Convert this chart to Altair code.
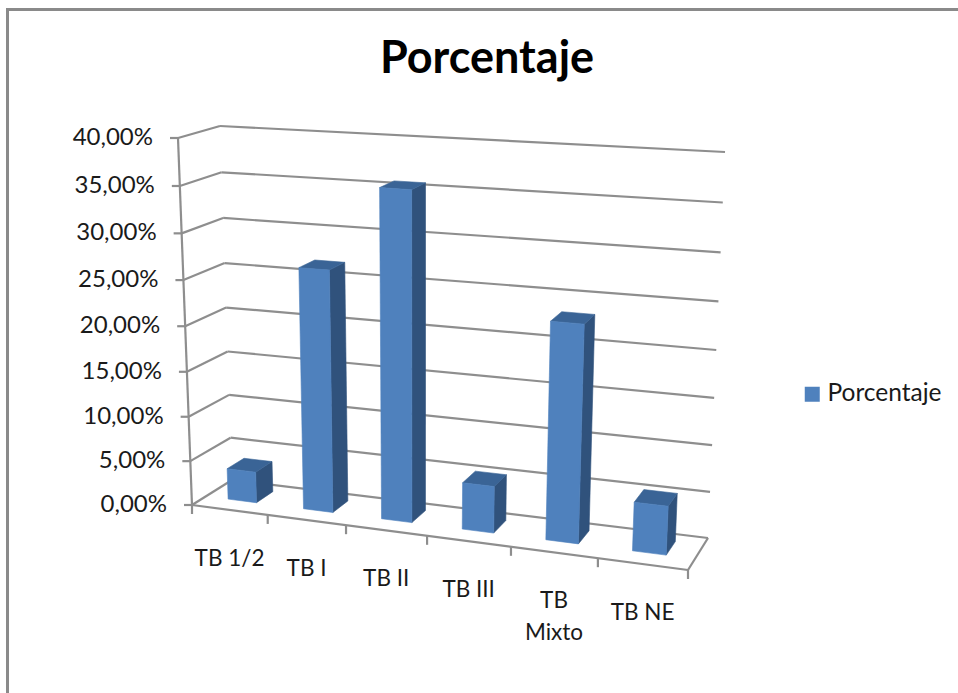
import altair as alt
import pandas as pd

# Chart values
categories = ["TB 1/2", "TB I", "TB II", "TB III", "TB\nMixto", "TB NE"]
percentages = [3.5, 26.6, 35.6, 5.1, 23.2, 5.2]
tick_values = [0, 5, 10, 15, 20, 25, 30, 35, 40]
tick_labels = ["0,00%", "5,00%", "10,00%", "15,00%", "20,00%", "25,00%", "30,00%", "35,00%", "40,00%"]
series_name = "Porcentaje"

W, H = 958, 693
FRONT, SIDE, TOP = "#4F81BD", "#30527C", "#3A6496"
GRID = "#8E8E8E"
TEXT = "#1A1A1A"
FONT = "Lato"

# Corners of the 3D box on the canvas: (slot side, height, depth)
BOX = {
    (0, 0, 0): (192, 505), (1, 0, 0): (688, 570),
    (0, 1, 0): (178, 138), (1, 1, 0): (706, 170),
    (0, 0, 1): (232, 480), (1, 0, 1): (708, 538),
    (0, 1, 1): (220, 126), (1, 1, 1): (725, 152),
}


def warp(t, w):
    return t / (t + (1 - t) * w)


def project(slot, value, depth):
    """Perspective-like projection of (category slot, percentage, depth) to canvas x, y."""
    s, t = warp(slot / 6, 1.11), warp(value / 40, 1.053)
    x = y = 0.0
    for (a, b, c), (px, py) in BOX.items():
        k = (s if a else 1 - s) * (t if b else 1 - t) * (depth if c else 1 - depth)
        x += k * px
        y += k * py
    return x, y


def segments(pairs):
    rows = []
    for i, (p, q) in enumerate(pairs):
        rows += [{"g": i, "k": 0, "x": p[0], "y": p[1]}, {"g": i, "k": 1, "x": q[0], "y": q[1]}]
    return pd.DataFrame(rows)


# Bar faces: extent within each category slot and within the box depth
SLOT_A, SLOT_B, DEPTH_A, DEPTH_B = 0.3, 0.68, 0.35, 0.78
faces = {"front": [], "side": [], "top": []}
for i, (cat, v) in enumerate(zip(categories, percentages)):
    a, b = i + SLOT_A, i + SLOT_B
    outline = {
        "front": [(a, 0, DEPTH_A), (b, 0, DEPTH_A), (b, v, DEPTH_A), (a, v, DEPTH_A)],
        "side": [(b, 0, DEPTH_A), (b, 0, DEPTH_B), (b, v, DEPTH_B), (b, v, DEPTH_A)],
        "top": [(a, v, DEPTH_A), (b, v, DEPTH_A), (b, v, DEPTH_B), (a, v, DEPTH_B)],
    }
    for face, verts in outline.items():
        for k, p in enumerate(verts + verts[:1]):
            x, y = project(*p)
            faces[face].append({"cat": cat, "k": k, "x": x, "y": y, "serie": series_name})

x_enc = alt.X("x:Q", axis=None, scale=alt.Scale(domain=[0, W], nice=False, zero=False))
y_enc = alt.Y("y:Q", axis=None, scale=alt.Scale(domain=[0, H], reverse=True, nice=False, zero=False))


def face_layer(rows, color):
    return alt.Chart(pd.DataFrame(rows)).mark_line(fill=color, stroke=color, strokeWidth=0.6).encode(
        x=x_enc, y=y_enc, detail="cat:N", order="k:Q"
    )


# Walls, floor and tick marks
wall_lines = []
for v in tick_values:
    wall_lines.append((project(0, v, 0), project(0, v, 1)))
    wall_lines.append((project(0, v, 1), project(6, v, 1)))
wall_lines += [
    (project(0, 0, 0), project(0, 40, 0)),
    (project(0, 0, 0), project(6, 0, 0)),
    (project(6, 0, 0), project(6, 0, 1)),
]
for v in tick_values:
    x0, y0 = project(0, v, 0)
    wall_lines.append(((x0 - 8, y0), (x0, y0)))
for i in range(7):
    x0, y0 = project(i, 0, 0)
    wall_lines.append(((x0, y0), (x0, y0 + 9)))

grid = alt.Chart(segments(wall_lines)).mark_line(color=GRID, strokeWidth=2.2).encode(
    x=x_enc, y=y_enc, detail="g:N", order="k:Q"
)

# Value labels on the left wall
value_rows = []
for v, label in zip(tick_values, tick_labels):
    x0, y0 = project(0, v, 0)
    value_rows.append({"x": x0 - 25, "y": y0, "label": label})
value_text = alt.Chart(pd.DataFrame(value_rows)).mark_text(
    align="right", baseline="middle", font=FONT, fontSize=24, color=TEXT
).encode(x=x_enc, y=y_enc, text="label:N")

# Category labels under the front edge
cat_rows = []
for i, cat in enumerate(categories):
    x0, y0 = project(i + 0.5, 0, 0)
    cat_rows.append({"x": x0, "y": y0 + 49, "label": cat})
cat_text = alt.Chart(pd.DataFrame(cat_rows)).mark_text(
    align="center", baseline="middle", font=FONT, fontSize=22.5, color=TEXT, lineBreak="\n", lineHeight=32
).encode(x=x_enc, y=y_enc, text="label:N")

# Front faces carry the series legend
front = alt.Chart(pd.DataFrame(faces["front"])).mark_line(strokeWidth=0.6, stroke=FRONT).encode(
    x=x_enc,
    y=y_enc,
    detail="cat:N",
    order="k:Q",
    fill=alt.Fill(
        "serie:N",
        scale=alt.Scale(domain=[series_name], range=[FRONT]),
        legend=alt.Legend(
            title=None,
            orient="none",
            legendX=800,
            legendY=382,
            symbolType="square",
            symbolSize=225,
            symbolStrokeWidth=0,
            labelFont=FONT,
            labelFontSize=24.5,
            labelColor=TEXT,
            labelOffset=3,
        ),
    ),
)

# Chart frame: upper and left edges only
frame_top = alt.Chart(pd.DataFrame({"a": [0]})).mark_rule(color="#8A8A8A", strokeWidth=3).encode(
    x=alt.value(6), x2=alt.value(W), y=alt.value(9.5)
)
frame_left = alt.Chart(pd.DataFrame({"a": [0]})).mark_rule(color="#8A8A8A", strokeWidth=3).encode(
    x=alt.value(7.5), y=alt.value(8), y2=alt.value(H)
)

chart = alt.layer(
    frame_top,
    frame_left,
    grid,
    value_text,
    cat_text,
    face_layer(faces["side"], SIDE),
    face_layer(faces["top"], TOP),
    front,
).properties(
    width=W,
    height=H,
    padding=0,
    autosize="none",
    background="white",
    title=alt.TitleParams(
        text=series_name,
        font=FONT,
        fontSize=45,
        fontWeight="bold",
        color="#000000",
        anchor="middle",
        dx=8,
        dy=118,
        offset=0,
        baseline="alphabetic",
    ),
).configure_view(stroke=None)

chart.save("out.html", embed_options={"renderer": "svg", "actions": False})
